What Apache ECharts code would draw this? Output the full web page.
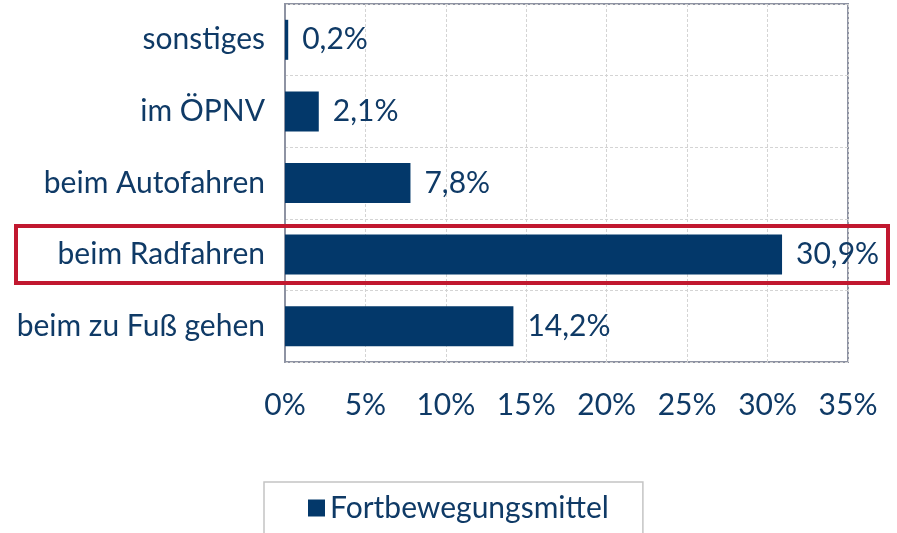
<!DOCTYPE html>
<html>
<head>
<meta charset="utf-8">
<script src="https://cdn.jsdelivr.net/npm/echarts@6/dist/echarts.min.js"></script>
<style>
  html, body { margin: 0; padding: 0; background: #fff; }
  #chart { width: 897px; height: 533px; }
</style>
</head>
<body>
<div id="chart"></div>
<script>
// Kategorien von unten nach oben
const categories = ['beim zu Fuß gehen', 'beim Radfahren', 'beim Autofahren', 'im ÖPNV', 'sonstiges'];
const values = [14.2, 30.9, 7.8, 2.1, 0.2];
const seriesName = 'Fortbewegungsmittel';
const xTicks = [0, 5, 10, 15, 20, 25, 30, 35];
const highlighted = 'beim Radfahren';

const navy = '#03386a';
const textColor = '#0f3a66';
const font = 'Lato';
const fs = 30;

const chart = echarts.init(document.getElementById('chart'));

const fmt = (v) => v.toFixed(1).replace('.', ',') + '%';

const option = {
  animation: false,
  textStyle: { fontFamily: font },
  grid: { left: 285, right: 49, top: 4, bottom: 171, show: true, borderColor: '#8e93a3', borderWidth: 2 },
  legend: {
    left: 264,
    top: 482,
    data: [seriesName],
    itemWidth: 17,
    itemHeight: 17,
    itemGap: 8,
    padding: [11, 34, 30, 44],
    borderColor: '#c4c4c4',
    borderWidth: 1.5,
    icon: 'rect',
    textStyle: { fontSize: fs, color: textColor, fontFamily: font }
  },
  xAxis: {
    type: 'value',
    min: xTicks[0],
    max: xTicks[xTicks.length - 1],
    interval: 5,
    axisLine: { show: false },
    axisTick: { show: false },
    axisLabel: { fontSize: fs, color: textColor, margin: 28, formatter: (v) => v + '%' },
    splitLine: { show: true, lineStyle: { color: '#d4d4d4', type: [3, 2], width: 1 } }
  },
  yAxis: {
    type: 'category',
    data: categories,
    axisLine: { show: true, lineStyle: { color: '#8e93a3', width: 2 } },
    axisTick: { show: false },
    axisLabel: { fontSize: fs, color: textColor, margin: 20 },
    splitLine: { show: true, lineStyle: { color: '#d4d4d4', type: [3, 2], width: 1 } }
  },
  series: [{
    name: seriesName,
    type: 'bar',
    data: values,
    barWidth: 40,
    itemStyle: { color: navy },
    label: {
      show: true,
      position: 'right',
      distance: 14,
      fontSize: fs,
      color: textColor,
      fontFamily: font,
      formatter: (p) => fmt(p.value)
    }
  }]
};

chart.setOption(option);

// roter Rahmen um die hervorgehobene Kategorie
const cy = chart.convertToPixel({ yAxisIndex: 0 }, highlighted);
chart.setOption({
  graphic: [{
    type: 'rect',
    shape: { x: 16, y: cy - 28.5, width: 872, height: 57 },
    style: { fill: 'none', stroke: '#c1182f', lineWidth: 4 },
    z: 100
  }]
});
</script>
</body>
</html>
